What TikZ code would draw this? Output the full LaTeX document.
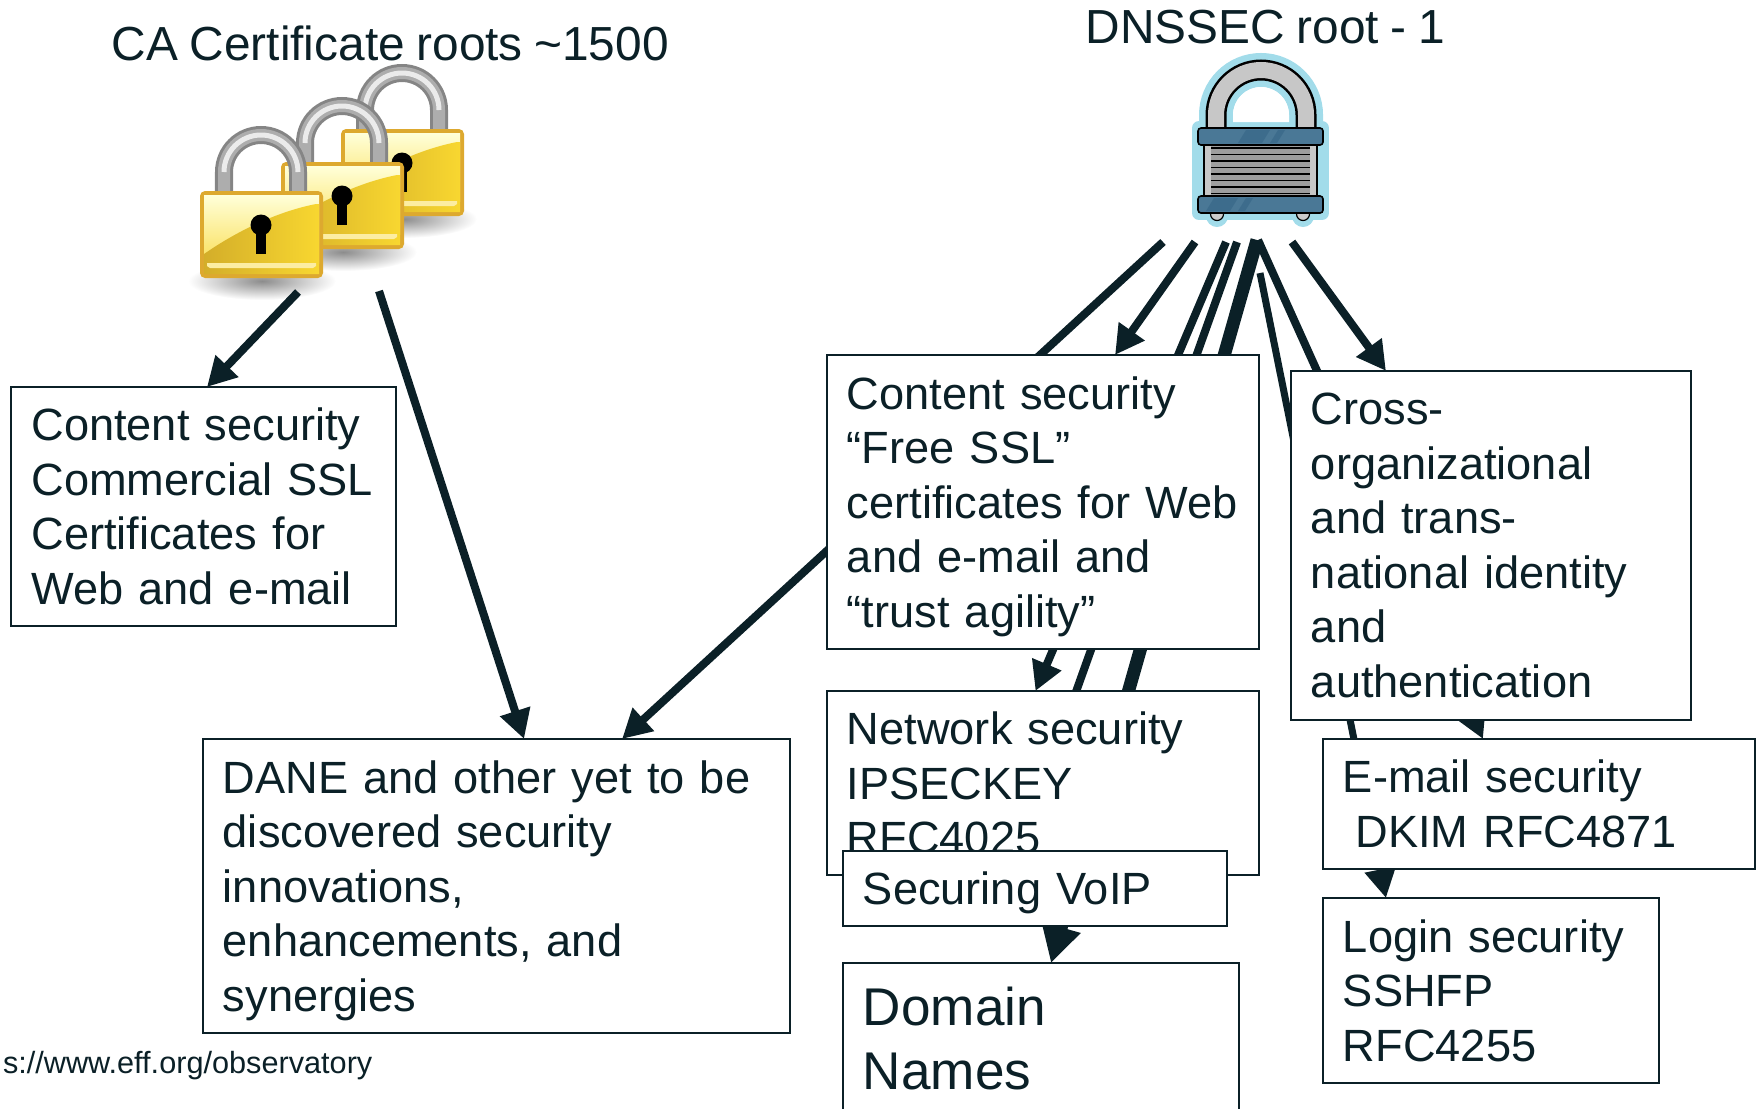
\documentclass[tikz,border=0pt]{standalone}
\usepackage{fontspec}
\setmainfont{Liberation Sans}[WordSpace=.87]
\usetikzlibrary{arrows.meta}
\definecolor{inkdark}{HTML}{0B2027}
\definecolor{goldedge}{HTML}{DDA92F}
\definecolor{goldlow}{HTML}{EBC12E}
\definecolor{goldhigh}{HTML}{F8D730}
\definecolor{halo}{HTML}{A2DCEA}
\definecolor{barblue}{HTML}{4A7896}
\definecolor{bardeep}{HTML}{3D6C8C}
\newcommand{\dropline}{\rule{0pt}{11.9pt}}
\pgfdeclarelayer{locks}
\pgfdeclarelayer{lines}
\pgfsetlayers{locks,lines,main}
\begin{document}
\begin{tikzpicture}
	[x=.01cm,y=-.01cm,
	box/.style={rectangle,draw=inkdark,fill=white,line width=.02cm,outer sep=0pt,inner xsep=.2cm,inner ysep=0pt,align=left,text=inkdark,font=\fontsize{12.85}{15.5}\selectfont},
	plain/.style={draw=none,fill=none,text=inkdark,inner sep=0pt},
	arrowline/.style={draw=inkdark,line width=.08cm,-{Triangle[length=.29cm,width=.3cm]}},
	heavyline/.style={draw=inkdark,line width=.13cm,-{Triangle[length=.37cm,width=.38cm]}},
	goldlock/.pic={
		\shade[inner color=black!45,outer color=white] (62,90) ellipse (74 and 19);
		\draw[line width=.18cm,draw=black!48] (24,2) -- (24,-19) arc (180:360:37) -- (98,2);
		\draw[line width=.12cm,draw=black!32] (24,2) -- (24,-19) arc (180:360:37) -- (98,2);
		\draw[line width=.05cm,draw=white!92!black] (24,-19) arc (180:360:37);
		\fill[goldedge,rounded corners=.05cm] (0,0) rectangle (123,87);
		\shade[top color=white!85!yellow,bottom color=goldhigh!80!white] (4,4) rectangle (119,72);
		\shade[left color=goldlow!90!black,right color=goldhigh] (4,63) .. controls (40,38) and (80,20) .. (116,13) -- (119,13) -- (119,83) -- (4,83) -- cycle;
		\fill[goldhigh!45!white] (7,72) -- (116,72) -- (116,75) -- (113,77) -- (10,77) -- (7,75) -- cycle;
		\fill[black] (61,34) circle (10.5);
		\fill[black] (56,36) rectangle (66,63);
	}
	]
	\useasboundingbox (0,0) rectangle (1758,1108);
	\node[plain,anchor=base west,font=\fontsize{13.6}{16}\selectfont] (caroots) at (111,60){CA Certificate roots \textasciitilde1500};
	\node[plain,anchor=base west,font=\fontsize{13.6}{16}\selectfont] (dnsroot) at (1085,43){DNSSEC root - 1};
	\node[plain,anchor=base east,font=\fontsize{8.72}{11}\selectfont] (effurl) at (373,1073){s://www.eff.org/observatory};

	\node[box,text width=3.44cm,minimum height=2.39cm] (commercial) at (203.5,506.5){Content security\\Commercial SSL\\Certificates for\\Web and e-mail};
	\node[box,text width=5.47cm,minimum height=2.94cm] (dane) at (496.5,886){\dropline DANE and other yet to be\\discovered security\\innovations,\\enhancements, and\\synergies};
	\node[box,text width=3.92cm,minimum height=2.94cm] (freessl) at (1043,502){\dropline Content security\\“Free SSL”\\certificates for Web\\and e-mail and\\“trust agility”};
	\node[box,text width=3.92cm,minimum height=1.84cm] (network) at (1043,783){Network security\\IPSECKEY\\RFC4025};
	\node[box,text width=3.44cm,minimum height=.75cm] (voip) at (1035,888.5){\dropline Securing VoIP};
	\node[box,text width=3.56cm,minimum height=1.5cm,font=\fontsize{15.1}{18.2}\selectfont] (domain) at (1041,1038){Domain\\Names};
	\node[box,text width=3.6cm,minimum height=3.49cm] (crossorg) at (1491,545.5){Cross-\\organizational\\and trans-\\national identity\\and\\authentication};
	\node[box,text width=3.92cm,minimum height=1.3cm] (email) at (1539,804){E-mail security\\\hspace*{.28em}DKIM RFC4871};
	\node[box,text width=2.96cm,minimum height=1.85cm] (login) at (1491,990.5){Login security\\SSHFP\\RFC4255};

	\coordinate (cafront) at (298,292);
	\coordinate (caback) at (379,291);
	\coordinate (rootdane) at (1163,242);
	\coordinate (rootfree) at (1195,242);
	\coordinate (rootnet) at (1226,242);
	\coordinate (rootvoip) at (1237,242);
	\coordinate (rootdomain) at (1257,240);
	\coordinate (rootmail) at (1258,240);
	\coordinate (rootlogin) at (1260,273);
	\coordinate (rootcross) at (1292,242);

	\begin{pgfonlayer}{lines}
	\draw[arrowline] (cafront) -- ([xshift=.035cm]commercial.north);
	\draw[arrowline] (caback) -- ([xshift=.275cm]dane.north);
	\draw[arrowline] (rootdane) -- ([xshift=1.255cm]dane.north);
	\draw[arrowline] (rootfree) -- ([xshift=.72cm]freessl.north);
	\draw[arrowline] (rootnet) -- ([xshift=-.075cm]network.north);
	\draw[arrowline] (rootvoip) -- ([xshift=-.16cm]voip.north);
	\draw[heavyline] (rootdomain) -- ([xshift=.1cm]domain.north);
	\draw[arrowline] (rootmail) -- ([xshift=-.56cm]email.north);
	\draw[arrowline,line width=.07cm] (rootlogin) -- ([xshift=-1.05cm]login.north);
	\draw[arrowline] (rootcross) -- ([xshift=-1.05cm]crossorg.north);
	\end{pgfonlayer}

	\begin{pgfonlayer}{locks}
	\pic at (341,129) {goldlock};
	\pic at (281,162) {goldlock};
	\pic at (200,191) {goldlock};

	\draw[line width=.34cm,draw=halo] (1216,127) -- (1216,115) arc (180:360:45) -- (1306,127);
	\draw[line width=.14cm,draw=halo,line join=round] (1199,128) rectangle (1322,213);
	\fill[halo] (1217,216) circle (11);
	\fill[halo] (1303,216) circle (11);
	\fill[white] (1233,122) -- (1233,115) arc (180:360:28) -- (1289,122) -- cycle;
	\draw[line width=.21cm,draw=black] (1216,127) -- (1216,115) arc (180:360:45) -- (1306,127);
	\draw[line width=.16cm,draw=black!22] (1216,127) -- (1216,115) arc (180:360:45) -- (1306,127);
	\fill[black!20,draw=black,line width=.012cm] (1217,214) circle (6.5);
	\fill[black!20,draw=black,line width=.012cm] (1303,214) circle (6.5);
	\fill[black!22,draw=black,line width=.012cm] (1204,144) rectangle (1317,197);
	\fill[black!38] (1211,146) rectangle (1310,195);
	\foreach \stripe in {148,154.5,161,167.5,174,180.5,187,193.5}
		\draw[black,line width=.016cm] (1211,\stripe) -- (1310,\stripe);
	\fill[barblue,draw=black,line width=.016cm,rounded corners=.03cm] (1198,128) rectangle (1323,145);
	\fill[bardeep] (1246,130) -- (1270,130) -- (1262,143) -- (1238,143) -- cycle;
	\fill[bardeep] (1278,130) -- (1285,130) -- (1277,143) -- (1270,143) -- cycle;
	\fill[barblue,draw=black,line width=.016cm,rounded corners=.03cm] (1198,196) rectangle (1323,213);
	\fill[bardeep] (1214,198) -- (1238,198) -- (1230,211) -- (1206,211) -- cycle;
	\fill[bardeep] (1246,198) -- (1253,198) -- (1245,211) -- (1238,211) -- cycle;
	\end{pgfonlayer}
\end{tikzpicture}
\end{document}
